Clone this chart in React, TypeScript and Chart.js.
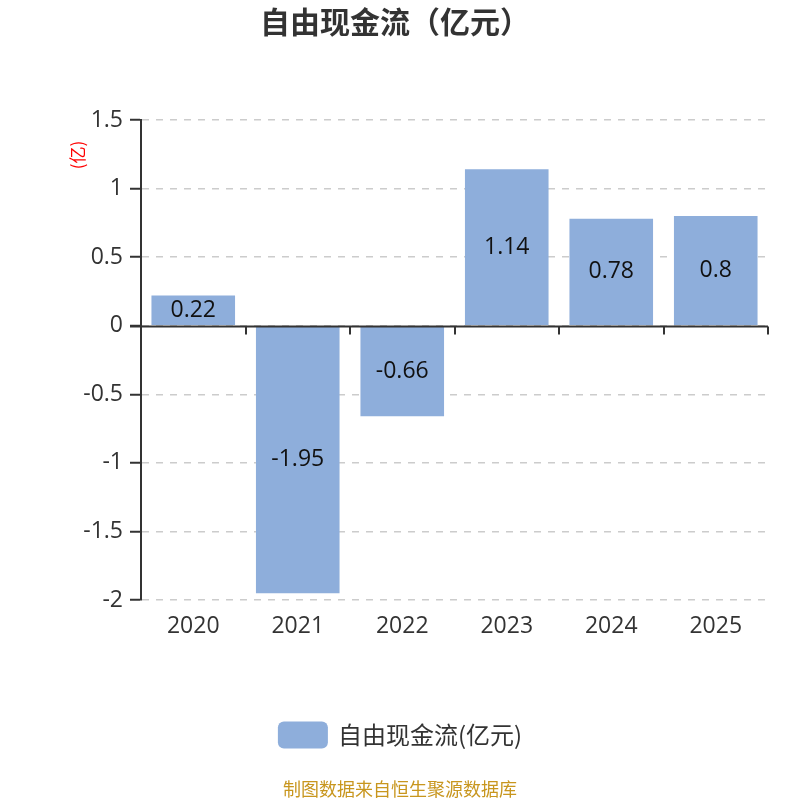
import React, { useEffect, useRef } from "react";
import { Chart, registerables } from "chart.js";

Chart.register(...registerables);

const title = "自由现金流（亿元）";
const categories = ["2020", "2021", "2022", "2023", "2024", "2025"];
const seriesName = "自由现金流(亿元)";
const values = [0.22, -1.95, -0.66, 1.14, 0.78, 0.8];
const yTicks = [1.5, 1, 0.5, 0, -0.5, -1, -1.5, -2];
const unitLabel = "(亿)";
const footer = "制图数据来自恒生聚源数据库";

const FONT = "'Open Sans', 'Noto Sans CJK SC', sans-serif";
const CJK = "'Noto Sans CJK SC', 'Open Sans', sans-serif";
const BAR = "#8EAEDB";
const AXIS = "#333333";

const decor = {
  id: "decor",
  afterDatasetsDraw(chart: any) {
    const ctx = chart.ctx;
    const x = chart.scales.x;
    const y = chart.scales.y;
    const area = chart.chartArea;
    const meta = chart.getDatasetMeta(0);
    ctx.save();
    ctx.font = `23px ${FONT}`;
    ctx.fillStyle = "#111";
    ctx.textAlign = "center";
    ctx.textBaseline = "middle";
    meta.data.forEach((el: any, i: number) => {
      const cy = (el.y + el.base) / 2;
      ctx.fillText(String(values[i]), el.x, cy);
    });
    const y0 = Math.round(y.getPixelForValue(0)) + 0.5;
    ctx.strokeStyle = AXIS;
    ctx.lineWidth = 2;
    ctx.beginPath();
    ctx.moveTo(area.left - 11, y0);
    ctx.lineTo(area.right, y0);
    ctx.stroke();
    const step = x.getPixelForValue(1) - x.getPixelForValue(0);
    for (let i = 0; i <= categories.length; i++) {
      const px = Math.round(x.getPixelForValue(0) - step / 2 + i * step);
      ctx.beginPath();
      ctx.moveTo(px, y0);
      ctx.lineTo(px, y0 + 8);
      ctx.stroke();
    }
    ctx.restore();
  },
  afterDraw(chart: any) {
    const ctx = chart.ctx;
    const W = chart.width;
    ctx.save();
    ctx.font = `bold 30px ${CJK}`;
    ctx.fillStyle = "#333";
    ctx.textAlign = "center";
    ctx.textBaseline = "middle";
    ctx.fillText(title, W / 2 - 5, 22);
    ctx.save();
    ctx.translate(78, 155);
    ctx.rotate(-Math.PI / 2);
    ctx.font = `17px ${CJK}`;
    ctx.fillStyle = "#ff0000";
    ctx.fillText(unitLabel, 0, 0);
    ctx.restore();
    ctx.font = `24px ${CJK}`;
    const tw = ctx.measureText(seriesName).width;
    const bw = 50, bh = 27, gap = 10;
    const total = bw + gap + tw;
    const lx = W / 2 - total / 2;
    const ly = 735;
    ctx.fillStyle = BAR;
    ctx.beginPath();
    (ctx as any).roundRect(lx, ly - bh / 2, bw, bh, 6);
    ctx.fill();
    ctx.fillStyle = "#333";
    ctx.textAlign = "left";
    ctx.fillText(seriesName, lx + bw + gap, ly);
    ctx.font = `18px ${CJK}`;
    ctx.fillStyle = "#C8961E";
    ctx.textAlign = "center";
    ctx.fillText(footer, W / 2, 789);
    ctx.restore();
  },
};

export default function App() {
  const ref = useRef<HTMLCanvasElement | null>(null);
  useEffect(() => {
    document.body.style.margin = "0";
    const chart = new Chart(ref.current as HTMLCanvasElement, {
      type: "bar",
      data: {
        labels: categories,
        datasets: [
          {
            label: seriesName,
            data: values,
            backgroundColor: BAR,
            categoryPercentage: 0.8,
            barPercentage: 1,
          },
        ],
      },
      options: {
        animation: false,
        responsive: false,
        devicePixelRatio: 1,
        layout: { padding: { left: 0, right: 32, top: 120, bottom: 140 } },
        plugins: {
          legend: { display: false },
          title: { display: false },
          tooltip: { enabled: false },
        },
        scales: {
          x: {
            grid: { display: false, drawTicks: false },
            border: { display: false },
            ticks: {
              padding: 13,
              color: "#333",
              font: { size: 23, family: FONT },
            },
            afterFit(scale: any) {
              scale.height = 60;
            },
          },
          y: {
            min: -2,
            max: 1.5,
            afterBuildTicks(scale: any) {
              scale.ticks = yTicks.map((v) => ({ value: v }));
            },
            grid: {
              color: "#cccccc",
              lineWidth: 1.5,
              tickColor: AXIS,
              tickLength: 11,
              tickWidth: 2,
            },
            border: { display: true, color: AXIS, width: 2, dash: [7, 7] },
            ticks: {
              padding: 7,
              color: "#333",
              font: { size: 23, family: FONT },
              callback: (v: any) => String(v),
            },
            afterFit(scale: any) {
              scale.width = 141;
            },
          },
        },
      },
      plugins: [decor],
    });
    return () => chart.destroy();
  }, []);
  return (
    <div style={{ width: 800, height: 800 }}>
      <canvas ref={ref} width={800} height={800} style={{ width: 800, height: 800 }} />
    </div>
  );
}
